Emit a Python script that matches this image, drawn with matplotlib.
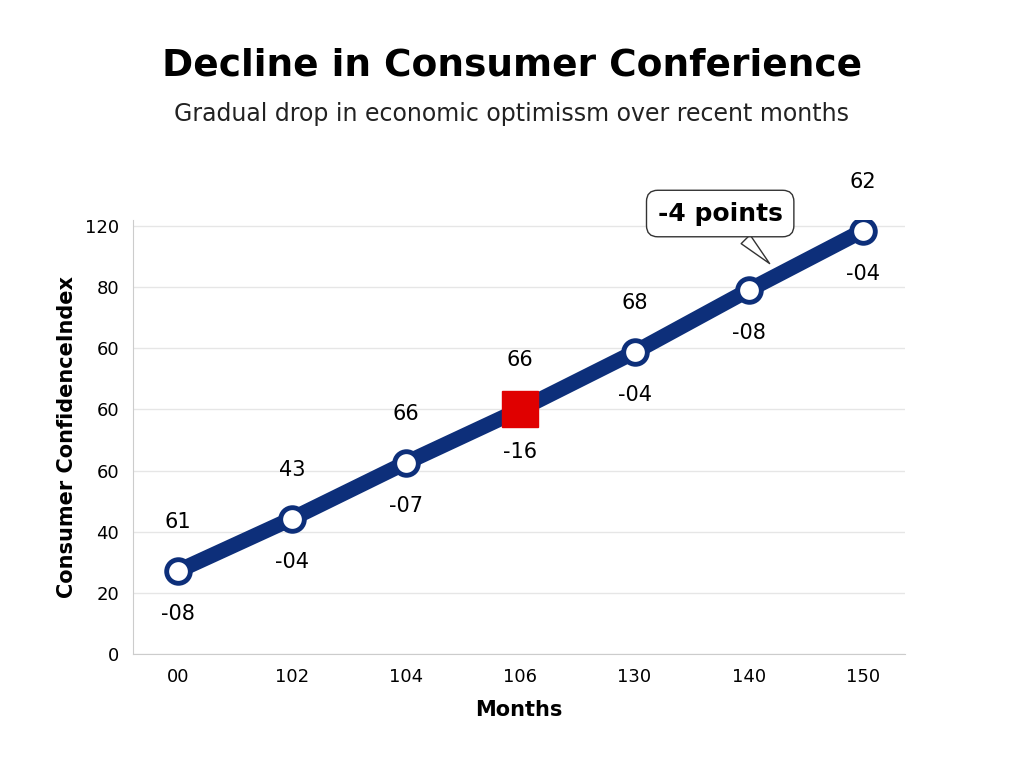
import matplotlib
matplotlib.use("Agg")
import matplotlib.pyplot as plt
from matplotlib.patches import FancyBboxPatch

months = ["00", "102", "104", "106", "130", "140", "150"]
values = [27.2, 44.3, 62.6, 80.0, 98.7, 119.0, 138.4]
above = ["61", "43", "66", "66", "68", "", "62"]
below = ["-08", "-04", "-07", "-16", "-04", "-08", "-04"]
ytick_vals = [0, 20, 40, 60, 80, 100, 120, 140]
ytick_labels = ["0", "20", "40", "60", "60", "60", "80", "120"]
highlight = 3

fig = plt.figure(figsize=(10.24, 7.68), dpi=100)
ax = fig.add_axes([0.13, 0.148, 0.754, 0.566])
x = list(range(len(months)))
ax.plot(x, values, color="#0d2f7a", lw=11, solid_capstyle="round", zorder=2)
for i, v in enumerate(values):
    if i == highlight:
        ax.plot(i, v, marker="s", ms=26, color="#e00000", mec="#e00000", zorder=3)
    else:
        ax.plot(i, v, marker="o", ms=17, mfc="white", mec="#0d2f7a", mew=3.5, zorder=3)
    if above[i]:
        ax.text(i, v + 16, above[i], ha="center", va="center", fontsize=15)
    ax.text(i, v - 14, below[i], ha="center", va="center", fontsize=15)

ax.set_xlim(-0.39, 6.37)
ax.set_ylim(0, 142)
ax.set_xticks(x, months, fontsize=13)
ax.set_yticks(ytick_vals, ytick_labels, fontsize=13)
ax.grid(axis="y", color="#e6e6e6", lw=1)
ax.tick_params(length=0, pad=10)
for s in ["top", "right"]:
    ax.spines[s].set_visible(False)
ax.spines["left"].set_color("#cccccc")
ax.spines["bottom"].set_color("#cccccc")
ax.set_xlabel("Months", fontsize=15, fontweight="bold", labelpad=10)
ax.set_ylabel("Consumer ConfidenceIndex", fontsize=15, fontweight="bold", labelpad=6)

ax.annotate("-4 points", xy=(5.2, 127), xytext=(4.75, 144), ha="center", va="center",
            fontsize=18, fontweight="bold", annotation_clip=False,
            bbox=dict(boxstyle="round,pad=0.45", fc="white", ec="#333333", lw=1),
            arrowprops=dict(arrowstyle="wedge,tail_width=0.5", fc="white", ec="#333333", lw=1))

fig.text(0.5, 0.915, "Decline in Consumer Conferience", ha="center", va="center",
         fontsize=27, fontweight="bold")
fig.text(0.5, 0.852, "Gradual drop in economic optimissm over recent months", ha="center",
         va="center", fontsize=17, color="#222222")
fig.savefig("out.png")
